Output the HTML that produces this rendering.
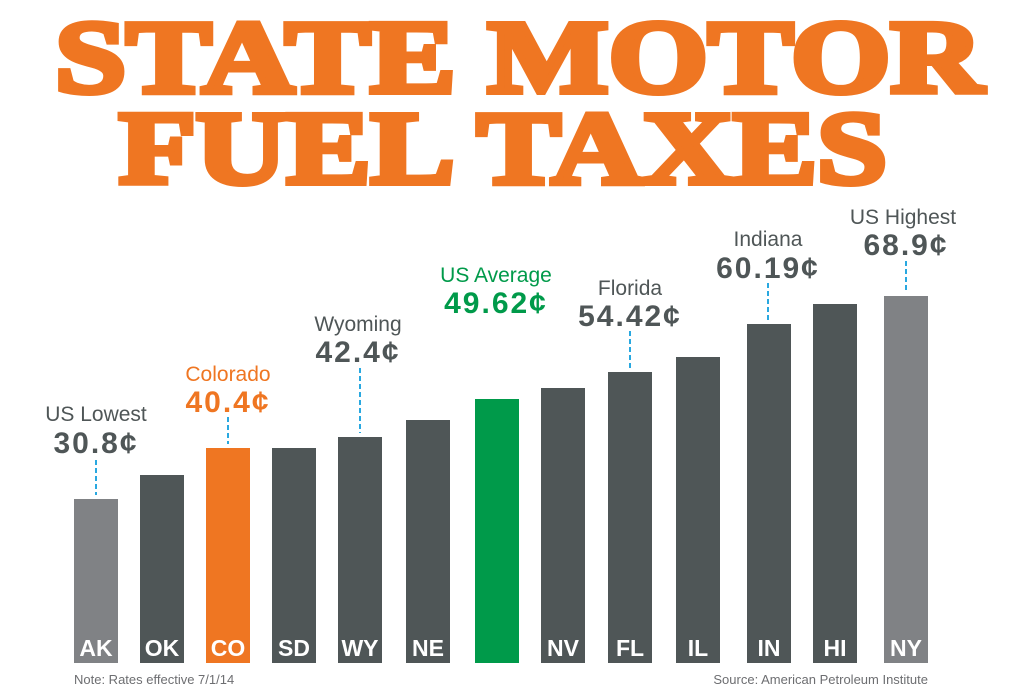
<!DOCTYPE html>
<html><head><meta charset="utf-8"><style>body{margin:0;background:#fff}svg{display:block}</style></head><body>
<svg width="1024" height="689" xmlns="http://www.w3.org/2000/svg" font-family="'Liberation Sans',sans-serif">
<g fill="#EF7622" stroke="#EF7622" stroke-width="6" stroke-linejoin="miter" font-family="'Liberation Serif',serif" font-weight="bold" font-size="104">
<text x="55" y="92" textLength="928" lengthAdjust="spacingAndGlyphs">STATE MOTOR</text>
<text x="119" y="183" textLength="768" lengthAdjust="spacingAndGlyphs">FUEL TAXES</text>
</g>
<g>
<rect x="74" y="499" width="44" height="164" fill="#808285"/>
<rect x="140" y="475" width="44" height="188" fill="#4F5657"/>
<rect x="206" y="448" width="44" height="215" fill="#EF7622"/>
<rect x="272" y="448" width="44" height="215" fill="#4F5657"/>
<rect x="338" y="437" width="44" height="226" fill="#4F5657"/>
<rect x="406" y="420" width="44" height="243" fill="#4F5657"/>
<rect x="475" y="399" width="44" height="264" fill="#009A4A"/>
<rect x="541" y="388" width="44" height="275" fill="#4F5657"/>
<rect x="608" y="372" width="44" height="291" fill="#4F5657"/>
<rect x="676" y="357" width="44" height="306" fill="#4F5657"/>
<rect x="747" y="324" width="44" height="339" fill="#4F5657"/>
<rect x="813" y="304" width="44" height="359" fill="#4F5657"/>
<rect x="884" y="296" width="44" height="367" fill="#808285"/>
</g>
<g fill="#fff" font-size="23" font-weight="bold" text-anchor="middle">
<text x="96" y="656">AK</text><text x="162" y="656">OK</text><text x="228" y="656">CO</text>
<text x="294" y="656">SD</text><text x="360" y="656">WY</text><text x="428" y="656">NE</text>
<text x="563" y="656">NV</text><text x="630" y="656">FL</text><text x="698" y="656">IL</text>
<text x="769" y="656">IN</text><text x="835" y="656">HI</text><text x="906" y="656">NY</text>
</g>
<g stroke="#29A8E0" stroke-width="2" stroke-dasharray="5,3">
<line x1="96" y1="460" x2="96" y2="495"/>
<line x1="228" y1="417" x2="228" y2="444"/>
<line x1="360" y1="368" x2="360" y2="433"/>
<line x1="630" y1="331" x2="630" y2="368"/>
<line x1="768" y1="283" x2="768" y2="320"/>
<line x1="906" y1="261" x2="906" y2="292"/>
</g>
<g text-anchor="middle">
<text x="96" y="421" font-size="21" fill="#4F5657">US Lowest</text>
<text x="96" y="453" font-size="30" font-weight="bold" fill="#4F5657" letter-spacing="2">30.8¢</text>
<text x="228" y="381" font-size="21" fill="#EF7622">Colorado</text>
<text x="228" y="412" font-size="30" font-weight="bold" fill="#EF7622" letter-spacing="2">40.4¢</text>
<text x="358" y="331" font-size="21" fill="#4F5657">Wyoming</text>
<text x="358" y="362" font-size="30" font-weight="bold" fill="#4F5657" letter-spacing="2">42.4¢</text>
<text x="496" y="282" font-size="21" fill="#009A4A">US Average</text>
<text x="496" y="313" font-size="30" font-weight="bold" fill="#009A4A" letter-spacing="2">49.62¢</text>
<text x="630" y="295" font-size="21" fill="#4F5657">Florida</text>
<text x="630" y="326" font-size="30" font-weight="bold" fill="#4F5657" letter-spacing="2">54.42¢</text>
<text x="768" y="246" font-size="21" fill="#4F5657">Indiana</text>
<text x="768" y="278" font-size="30" font-weight="bold" fill="#4F5657" letter-spacing="2">60.19¢</text>
<text x="903" y="224" font-size="21" fill="#4F5657">US Highest</text>
<text x="906" y="255" font-size="30" font-weight="bold" fill="#4F5657" letter-spacing="2">68.9¢</text>
</g>
<text x="74" y="684" font-size="13" fill="#6d6e71">Note: Rates effective 7/1/14</text>
<text x="928" y="684" font-size="13" fill="#6d6e71" text-anchor="end">Source: American Petroleum Institute</text>
</svg>
</body></html>
